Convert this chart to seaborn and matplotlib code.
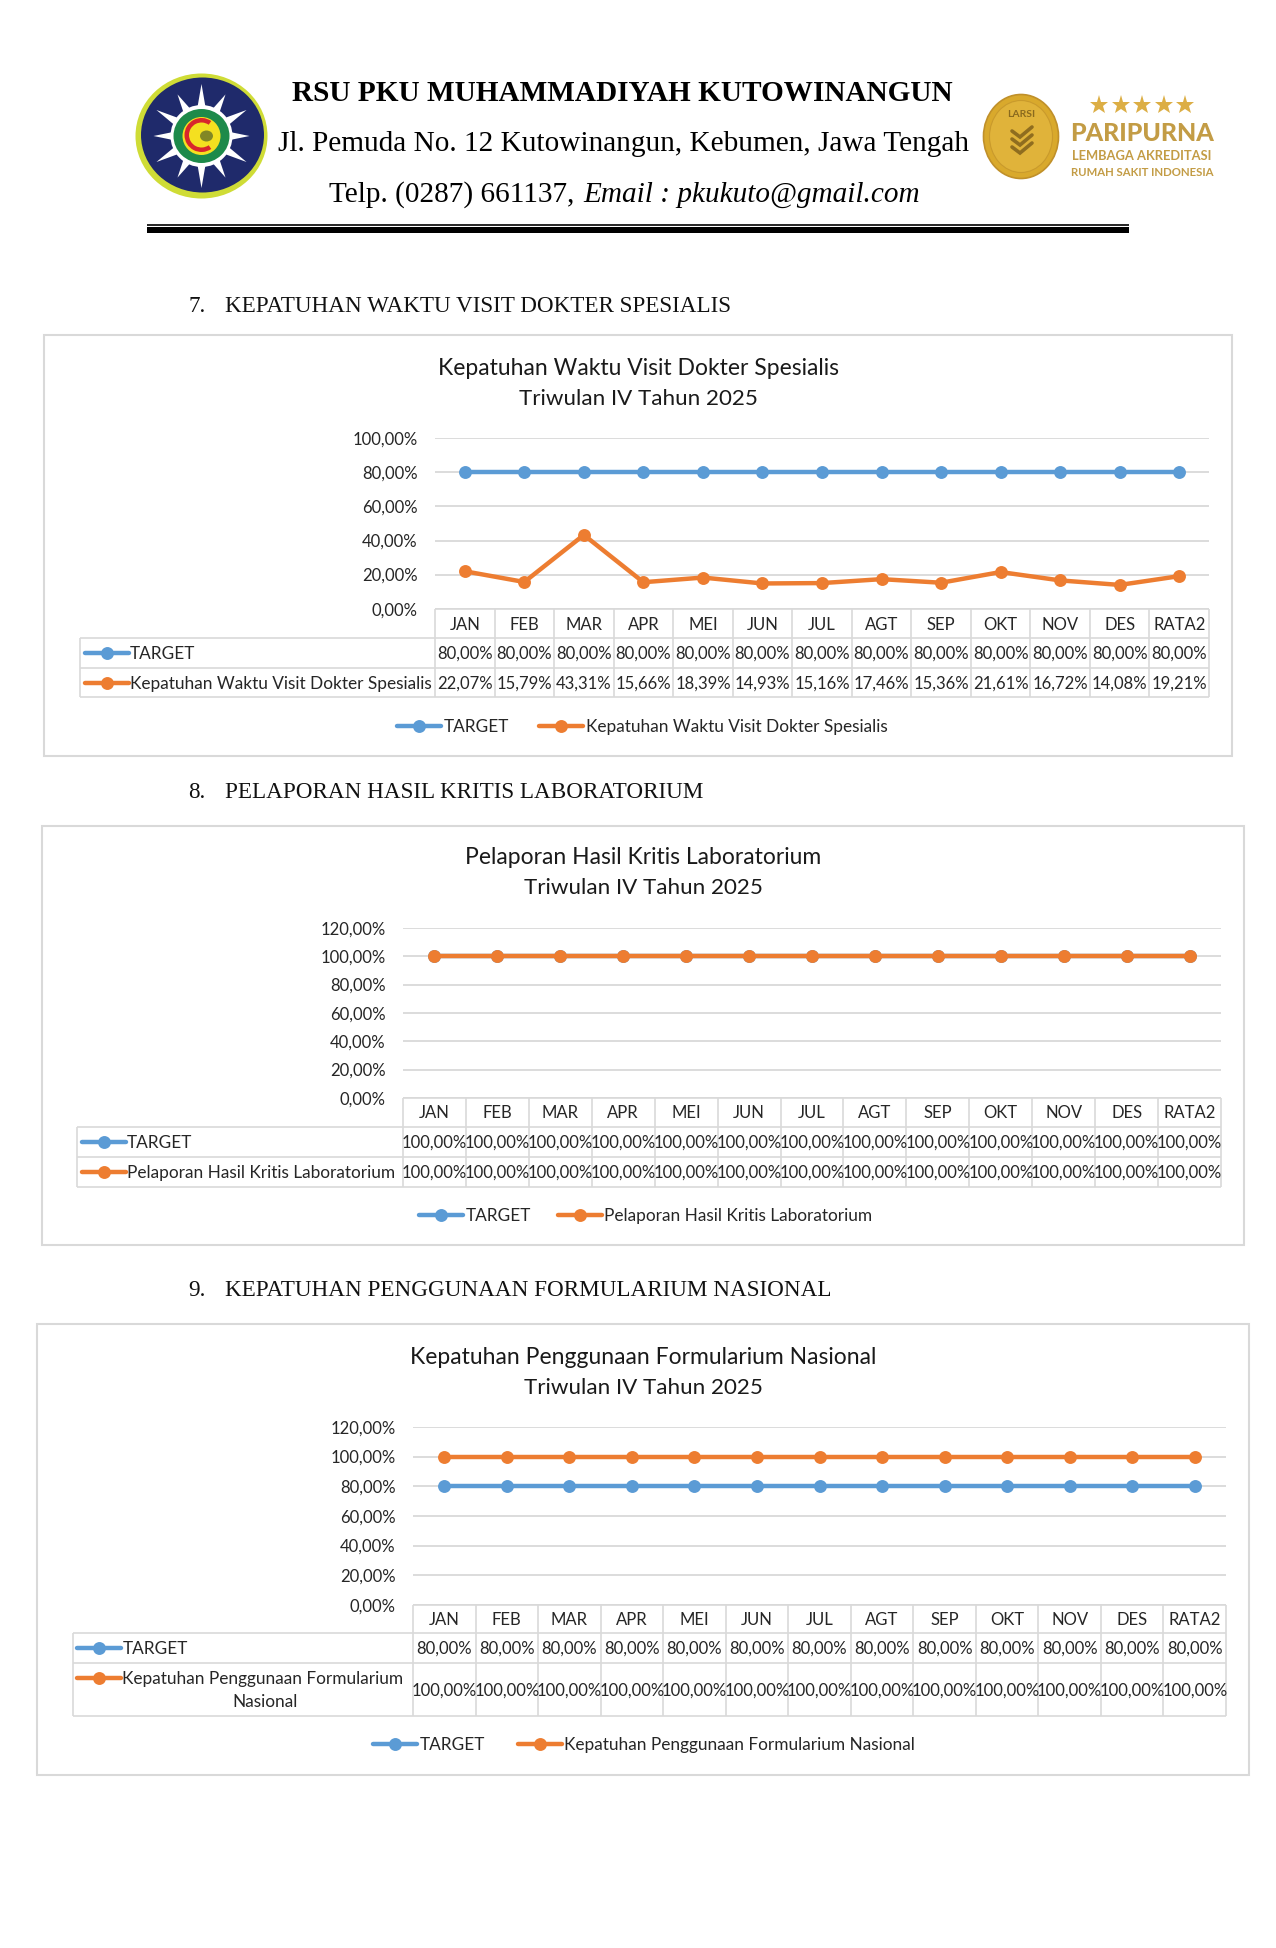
import numpy as np
import pandas as pd
import matplotlib
matplotlib.use('Agg')
import matplotlib.pyplot as plt
import seaborn as sns
from matplotlib.patches import Ellipse, Polygon, Rectangle, Wedge
from matplotlib.transforms import ScaledTranslation

W, H = 1276, 1949

BLUE = '#5b9bd5'
ORANGE = '#ed7d31'
GRID = '#d9d9d9'
TEXT = '#262626'
SANS = 'Lato'
SERIF = 'Liberation Serif'

MONTHS = ['JAN', 'FEB', 'MAR', 'APR', 'MEI', 'JUN', 'JUL', 'AGT', 'SEP', 'OKT', 'NOV', 'DES', 'RATA2']

target_visit = [80.0] * 13
visit = [22.07, 15.79, 43.31, 15.66, 18.39, 14.93, 15.16, 17.46, 15.36, 21.61, 16.72, 14.08, 19.21]

target_lab = [100.0] * 13
lab = [100.0] * 13

target_fornas = [80.0] * 13
fornas = [100.0] * 13

yticks_visit = [0, 20, 40, 60, 80, 100]
yticks_other = [0, 20, 40, 60, 80, 100, 120]

LINE_W = 3.2
MARK = 9.3
CELL_FS = 12
NAME_FS = 12.4

sns.set_theme(style='white')
plt.rcParams['font.family'] = [SANS, 'DejaVu Sans']

fig = plt.figure(figsize=(W / 100, H / 100), dpi=100, facecolor='white')

# overlay in page pixels for the letterhead, frames and the tables under the plots
page = fig.add_axes([0, 0, 1, 1], zorder=5)
page.set_xlim(0, W)
page.set_ylim(H, 0)
page.axis('off')
page.patch.set_alpha(0)


def pct(v):
    return f"{v:.2f}%".replace('.', ',')


def hline(x0, x1, y, color=GRID, lw=1.2):
    page.plot([x0, x1], [y, y], color=color, lw=lw, solid_capstyle='butt')


def vline(x, y0, y1, color=GRID, lw=1.2):
    page.plot([x, x], [y0, y1], color=color, lw=lw, solid_capstyle='butt')


def key(x0, y, color):
    page.plot([x0, x0 + 44], [y, y], color=color, lw=LINE_W, solid_capstyle='round')
    page.plot([x0 + 22], [y], color=color, marker='o', ms=MARK, mew=0)


def draw_chart(c):
    # outer frame
    fx0, fy0, fx1, fy1 = c['frame']
    page.add_patch(Rectangle((fx0, fy0), fx1 - fx0, fy1 - fy0, fill=False, ec=GRID, lw=1.5))
    page.text(c['title_x'], c['title_y'][0], c['title'][0], ha='center', va='center', fontsize=16.45, color='#1a1a1a')
    page.text(c['title_x'], c['title_y'][1], c['title'][1], ha='center', va='center', fontsize=16.1, color='#1a1a1a')

    # line plot
    x0, x1, ytop, ybot = c['plot']
    ax = fig.add_axes([x0 / W, 1 - ybot / H, (x1 - x0) / W, (ybot - ytop) / H], zorder=3)
    df = pd.DataFrame({
        'bulan': MONTHS * 2,
        'nilai': list(c['target']) + list(c['values']),
        'seri': ['TARGET'] * 13 + [c['name']] * 13,
    })
    sns.lineplot(data=df, x='bulan', y='nilai', hue='seri', sort=False, ax=ax, legend=False,
                 palette={'TARGET': BLUE, c['name']: ORANGE}, marker='o', markersize=MARK,
                 markeredgewidth=0, linewidth=LINE_W, errorbar=None, clip_on=False, zorder=4)
    ax.set_xlim(-0.5, 12.5)
    ax.set_ylim(0, c['yticks'][-1])
    ax.set_yticks(c['yticks'])
    ax.set_yticklabels([pct(t) for t in c['yticks']], fontsize=CELL_FS, color=TEXT)
    ax.set_xticks([])
    ax.set_xlabel('')
    ax.set_ylabel('')
    ax.tick_params(axis='y', length=0, pad=12.5)
    # Lato sits a little low against the gridlines
    for lab_txt in ax.get_yticklabels():
        lab_txt.set_transform(lab_txt.get_transform() + ScaledTranslation(0, 1.2 / 100, fig.dpi_scale_trans))
    ax.grid(axis='y', color=GRID, lw=1.3)
    ax.set_axisbelow(True)
    sns.despine(ax=ax, left=True, bottom=True)
    ax.patch.set_alpha(0)

    # data table
    rows = c['rows']
    tl = c['table_left']
    cw = (x1 - x0) / 13
    hline(x0, x1, rows[0])
    for r in rows[1:]:
        hline(tl, x1, r)
    vline(tl, rows[1], rows[3])
    for i in range(14):
        vline(x0 + i * cw, rows[0], rows[3])
    for i, m in enumerate(MONTHS):
        xc = x0 + (i + 0.5) * cw
        page.text(xc, (rows[0] + rows[1]) / 2, m, ha='center', va='center', fontsize=CELL_FS, color=TEXT)
        page.text(xc, (rows[1] + rows[2]) / 2, pct(c['target'][i]), ha='center', va='center', fontsize=CELL_FS, color=TEXT)
        page.text(xc, (rows[2] + rows[3]) / 2, pct(c['values'][i]), ha='center', va='center', fontsize=CELL_FS, color=TEXT)

    ky = (rows[1] + rows[2]) / 2
    key(tl + 4.5, ky, BLUE)
    page.text(tl + 50, ky, 'TARGET', va='center', fontsize=NAME_FS, color=TEXT)
    if c['wrap'] is None:
        ky2 = (rows[2] + rows[3]) / 2
        key(tl + 4.5, ky2, ORANGE)
        page.text(tl + 50, ky2, c['name'], va='center', fontsize=NAME_FS, color=TEXT)
    else:
        first, second, y1, y2, xc2 = c['wrap']
        key(tl + 4.5, y1, ORANGE)
        page.text(tl + 50, y1, first, va='center', fontsize=NAME_FS, color=TEXT)
        page.text(xc2, y2, second, ha='center', va='center', fontsize=NAME_FS, color=TEXT)

    # legend below the table
    lb, lo, ly = c['legend']
    key(lb, ly, BLUE)
    page.text(lb + 46.5, ly, 'TARGET', va='center', fontsize=NAME_FS, color=TEXT)
    key(lo, ly, ORANGE)
    page.text(lo + 46.5, ly, c['name'], va='center', fontsize=NAME_FS, color=TEXT)


charts = [
    dict(name='Kepatuhan Waktu Visit Dokter Spesialis', target=target_visit, values=visit,
         title=['Kepatuhan Waktu Visit Dokter Spesialis', 'Triwulan IV Tahun 2025'],
         frame=(44, 336, 1232, 757), title_x=638, title_y=(368.5, 399), plot=(435, 1209, 439, 610),
         yticks=yticks_visit, rows=(610, 639, 669, 698), table_left=80, legend=(397, 539, 727), wrap=None),
    dict(name='Pelaporan Hasil Kritis Laboratorium', target=target_lab, values=lab,
         title=['Pelaporan Hasil Kritis Laboratorium', 'Triwulan IV Tahun 2025'],
         frame=(41.5, 827, 1244, 1246), title_x=643, title_y=(857, 888), plot=(403, 1221, 929, 1099),
         yticks=yticks_other, rows=(1099, 1128, 1158, 1188), table_left=77, legend=(419, 558, 1216), wrap=None),
    dict(name='Kepatuhan Penggunaan Formularium Nasional', target=target_fornas, values=fornas,
         title=['Kepatuhan Penggunaan Formularium Nasional', 'Triwulan IV Tahun 2025'],
         frame=(37, 1325, 1249, 1776), title_x=643, title_y=(1357, 1388), plot=(413, 1226, 1428, 1606),
         yticks=yticks_other, rows=(1606, 1634, 1664, 1717), table_left=72.5, legend=(373, 518, 1745),
         wrap=('Kepatuhan Penggunaan Formularium', 'Nasional', 1679, 1702, 265.5)),
]

for c in charts:
    draw_chart(c)

# section headings
headings = [('7.', 'KEPATUHAN WAKTU VISIT DOKTER SPESIALIS', 306.5),
            ('8.', 'PELAPORAN HASIL KRITIS LABORATORIUM', 793),
            ('9.', 'KEPATUHAN PENGGUNAAN FORMULARIUM NASIONAL', 1291)]
for num, label, y in headings:
    page.text(188.5, y, num, va='center', fontsize=16.7, family=SERIF, color='#111111')
    page.text(225, y, label, va='center', fontsize=16.7, family=SERIF, color='#111111')

# letterhead
page.text(622.5, 93, 'RSU PKU MUHAMMADIYAH KUTOWINANGUN', ha='center', va='center',
          fontsize=21.05, family=SERIF, weight='bold', color='black')
page.text(623, 144, 'Jl. Pemuda No. 12 Kutowinangun, Kebumen, Jawa Tengah', ha='center', va='center',
          fontsize=21.05, family=SERIF, color='black')
page.text(329, 195, 'Telp. (0287) 661137, ', ha='left', va='center', fontsize=21.05, family=SERIF, color='black')
page.text(583, 195, 'Email : pkukuto@gmail.com', ha='left', va='center', fontsize=21.05, family=SERIF,
          style='italic', color='black')
hline(147, 1129, 226, color='black', lw=1.2)
page.add_patch(Rectangle((147, 228), 982, 6, fc='black', ec='none'))

# left logo: crest drawn with simple shapes
cx, cy = 201.5, 137
page.add_patch(Ellipse((cx, cy), 132, 125, fc='#cfdc36', ec='none'))
page.add_patch(Ellipse((cx + 1, cy - 1), 123, 115, fc='#1f2a6b', ec='none'))
for deg, r in zip(np.arange(0, 360, 30), [52, 48] * 6):
    a = np.deg2rad(deg + 90)
    tip = (cx + r * np.cos(a), cy + r * np.sin(a))
    n = (-np.sin(a) * 4.5, np.cos(a) * 4.5)
    base = (cx + 26 * np.cos(a), cy + 26 * np.sin(a))
    page.add_patch(Polygon([tip, (base[0] + n[0], base[1] + n[1]), (base[0] - n[0], base[1] - n[1])],
                           fc='white', ec='none'))
page.add_patch(Ellipse((cx, cy), 62, 62, fc='white', ec='none'))
page.add_patch(Ellipse((cx, cy), 56, 54, fc='#1d8a4a', ec='none'))
page.add_patch(Ellipse((cx, cy), 38, 38, fc='#f4e020', ec='none'))
page.add_patch(Wedge((cx, cy - 1), 17, 55, 305, width=4.5, fc='#d8262c', ec='none'))
page.add_patch(Ellipse((cx + 5, cy), 13, 11, fc='#5c6a28', ec='none', alpha=0.75))

# right logo: gold seal and accreditation text
GOLD = '#c39c45'
page.add_patch(Ellipse((1021, 137.5), 75, 84, fc='#d9a92c', ec='#c0902a', lw=1.2))
page.add_patch(Ellipse((1021, 137.5), 63, 72, fc='#e0b33a', ec='#c99a2c', lw=0.8))
page.text(1021, 114, 'LARSI', ha='center', va='center', fontsize=7.5, weight='bold', color='#8a6a1e')
for dy in (0, 8, 16):
    page.plot([1012, 1020, 1032], [132 + dy, 138 + dy, 128 + dy], color='#8f6d1f', lw=2.6, solid_joinstyle='miter')
page.plot(np.linspace(1099, 1185, 5), [105.5] * 5, ls='none', marker='*', ms=14, color='#dcae45', mew=0)
page.text(1142, 133, 'PARIPURNA', ha='center', va='center', fontsize=18, weight='black', color=GOLD)
page.text(1142, 156, 'LEMBAGA AKREDITASI', ha='center', va='center', fontsize=9.3, weight='bold', color=GOLD)
page.text(1142, 172, 'RUMAH SAKIT INDONESIA', ha='center', va='center', fontsize=8.2, weight='bold', color=GOLD)

fig.savefig('out.png', dpi=100, facecolor='white')
